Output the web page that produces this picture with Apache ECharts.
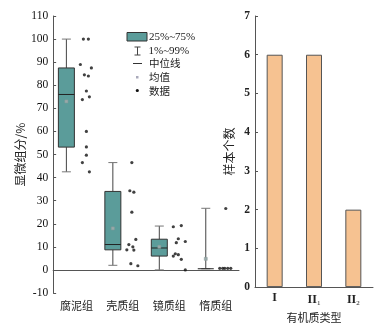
<!DOCTYPE html>
<html><head><meta charset="utf-8">
<script src="https://cdn.jsdelivr.net/npm/echarts@6/dist/echarts.min.js"></script>
<style>html,body{margin:0;padding:0;background:#fff}#c{width:383px;height:328px}</style>
</head><body><div id="c"></div>
<script>
// ---- data ----
const groups = ['腐泥组', '壳质组', '镜质组', '惰质组'];
// [min(1%), Q1, median, Q3, max(99%), mean]
const boxStats = [
  [42.5, 53.2, 76, 87.5, 100, 73],
  [2, 8.7, 11, 34, 46.5, 18],
  [0, 6, 9.5, 13.3, 19, 10],
  [0.5, 0.5, 0.5, 0.5, 26.7, 4.8]
];
const pts0 = [100, 100, 89, 87.5, 84.5, 84, 77.5, 75, 73.8, 60, 53.3, 49.7, 46.5, 42.5];
const pts1 = [46.5, 34.3, 33.7, 25, 13.2, 11, 10, 8.7, 8.6, 2.7, 1.8];
const pts2 = [18.7, 19.2, 13.5, 12.3, 11.8, 7, 6.6, 6, 4.6, 0];
const pts3 = [26.6, 0.7, 0.7, 0.7, 0.7, 0.7];
const types = ['I', 'II|1', 'II|2'];
const counts = [6, 6, 2];
const yTicksLeft = { min: -10, max: 110, interval: 10 };
const yTicksRight = { min: 0, max: 7, interval: 1 };

// ---- style (jitter offsets in px, purely visual) ----
const jitter = [
  [7, 12, 4, 15, 8, 12, 10, 13, 6, 10, 10, 10, 6, 13],
  [9, 7, 11, 9, 13, 6, 10, 4, 11, 8, 15],
  [4, 12, 9, 16, 7, 6, 9, 4, 12, 16],
  [10, 4, 7, 9, 12, 15]
];
const allPts = [pts0, pts1, pts2, pts3];
const scatterData = [];
allPts.forEach((arr, i) => arr.forEach((v, k) => scatterData.push({ value: [i, v], symbolOffset: [jitter[i][k], 0] })));

const serif = '"Liberation Serif","DejaVu Serif",serif';
const cjk = '"Noto Sans CJK SC","Liberation Serif",sans-serif';
const axisCol = '#555';
const teal = '#5b9c9a';
const BOX_OFF = -10, BOX_W = 16, CAP_W = 9;

const chart = echarts.init(document.getElementById('c'), null, { renderer: 'canvas' });
chart.setOption({
  animation: false,
  backgroundColor: '#fff',
  grid: [
    { left: 41, top: 16, width: 198, height: 277 },
    { left: 255, top: 16, width: 118, height: 277 }
  ],
  xAxis: [
    { gridIndex: 0, type: 'category', data: groups,
      axisLine: { lineStyle: { color: axisCol } },
      axisTick: { inside: true, alignWithLabel: true, length: 3, lineStyle: { color: axisCol } },
      axisLabel: { interval: 0, fontFamily: cjk, fontSize: 11, color: '#222', margin: 7 } },
    { gridIndex: 1, type: 'category', data: types,
      name: '有机质类型', nameLocation: 'middle', nameGap: 21,
      nameTextStyle: { fontFamily: cjk, fontSize: 11, color: '#222' },
      axisLine: { lineStyle: { color: axisCol } },
      axisTick: { inside: true, alignWithLabel: true, length: 3, lineStyle: { color: axisCol } },
      axisLabel: { interval: 0, margin: 5,
        formatter: v => { const p = v.split('|'); return p[1] ? `{m|${p[0]}}{s|${p[1]}}` : `{m|${p[0]}}`; },
        rich: { m: { fontFamily: serif, fontSize: 12, fontWeight: 'bold', color: '#222' },
                s: { fontFamily: serif, fontSize: 7, color: '#222', padding: [8, 0, 0, 0] } } } }
  ],
  yAxis: [
    { gridIndex: 0, type: 'value', min: yTicksLeft.min, max: yTicksLeft.max, interval: yTicksLeft.interval,
      name: '显微组分/%', nameLocation: 'middle', nameGap: 27,
      nameTextStyle: { fontFamily: cjk, fontSize: 12, color: '#222' },
      splitLine: { show: false },
      axisLine: { show: true, lineStyle: { color: axisCol } },
      axisTick: { show: true, inside: true, length: 3, lineStyle: { color: axisCol } },
      axisLabel: { fontFamily: serif, fontSize: 11.5, color: '#111', margin: 5 } },
    { gridIndex: 1, type: 'value', min: yTicksRight.min, max: yTicksRight.max, interval: yTicksRight.interval,
      name: '样本个数', nameLocation: 'middle', nameGap: 20,
      nameTextStyle: { fontFamily: cjk, fontSize: 12, color: '#222' },
      splitLine: { show: false },
      axisLine: { show: true, lineStyle: { color: axisCol } },
      axisTick: { show: true, inside: true, length: 3, lineStyle: { color: axisCol } },
      axisLabel: { fontFamily: serif, fontSize: 11.5, fontWeight: 'bold', color: '#222', margin: 5 } }
  ],
  series: [
    { type: 'custom', xAxisIndex: 0, yAxisIndex: 0,
      data: boxStats.map((s, i) => [i].concat(s)),
      renderItem: (params, api) => {
        const i = api.value(0);
        const cx = api.coord([i, 0])[0] + BOX_OFF;
        const y = k => api.coord([i, api.value(k)])[1];
        const yMin = y(1), yQ1 = y(2), yMed = y(3), yQ3 = y(4), yMax = y(5), yMean = y(6);
        const ln = (x1, y1, x2, y2, c) => ({ type: 'line', shape: { x1, y1, x2, y2 }, style: { stroke: c || '#444', lineWidth: 1 } });
        const kids = [
          ln(cx, yQ3, cx, yMax), ln(cx, yQ1, cx, yMin),
          ln(cx - CAP_W / 2, yMax, cx + CAP_W / 2, yMax, '#777'),
          ln(cx - CAP_W / 2, yMin, cx + CAP_W / 2, yMin, '#777')
        ];
        if (Math.abs(yQ1 - yQ3) > 0.5) {
          kids.push({ type: 'rect', shape: { x: cx - BOX_W / 2, y: yQ3, width: BOX_W, height: yQ1 - yQ3 },
            style: { fill: teal, stroke: '#333', lineWidth: 1 } });
        }
        kids.push(ln(cx - BOX_W / 2, yMed, cx + BOX_W / 2, yMed, '#222'));
        kids.push({ type: 'rect', shape: { x: cx - 1.5, y: yMean - 1.5, width: 3, height: 3 },
          style: { fill: '#9aa', stroke: '#8a9a9a', lineWidth: 0.5 } });
        return { type: 'group', children: kids };
      } },
    { type: 'scatter', xAxisIndex: 0, yAxisIndex: 0, symbol: 'circle', symbolSize: 3.2,
      itemStyle: { color: '#111' }, data: scatterData },
    { type: 'bar', xAxisIndex: 1, yAxisIndex: 1, barWidth: 16, data: counts,
      itemStyle: { color: '#f6c291', borderColor: '#555', borderWidth: 1 } }
  ],
  graphic: [
    { type: 'rect', shape: { x: 127, y: 32.5, width: 20, height: 8.5 }, style: { fill: teal, stroke: '#333', lineWidth: 1 } },
    { type: 'text', x: 149, y: 37, style: { text: '25%~75%', font: '11px ' + serif, fill: '#222', textVerticalAlign: 'middle' } },
    { type: 'line', shape: { x1: 137.5, y1: 47, x2: 137.5, y2: 55 }, style: { stroke: '#444', lineWidth: 1 } },
    { type: 'line', shape: { x1: 134.5, y1: 47, x2: 140.5, y2: 47 }, style: { stroke: '#444', lineWidth: 1 } },
    { type: 'line', shape: { x1: 134.5, y1: 55, x2: 140.5, y2: 55 }, style: { stroke: '#444', lineWidth: 1 } },
    { type: 'text', x: 148.5, y: 51, style: { text: '1%~99%', font: '11px ' + serif, fill: '#222', textVerticalAlign: 'middle' } },
    { type: 'line', shape: { x1: 133, y1: 63.5, x2: 142, y2: 63.5 }, style: { stroke: '#333', lineWidth: 1 } },
    { type: 'text', x: 149, y: 63.5, style: { text: '中位线', font: '10.5px ' + cjk, fill: '#222', textVerticalAlign: 'middle' } },
    { type: 'rect', shape: { x: 136, y: 76, width: 2.5, height: 2.5 }, style: { fill: '#aab' } },
    { type: 'text', x: 149, y: 77.3, style: { text: '均值', font: '10.5px ' + cjk, fill: '#222', textVerticalAlign: 'middle' } },
    { type: 'circle', shape: { cx: 137.3, cy: 90.5, r: 1.6 }, style: { fill: '#111' } },
    { type: 'text', x: 149, y: 90.7, style: { text: '数据', font: '10.5px ' + cjk, fill: '#222', textVerticalAlign: 'middle' } }
  ]
});
</script></body></html>
